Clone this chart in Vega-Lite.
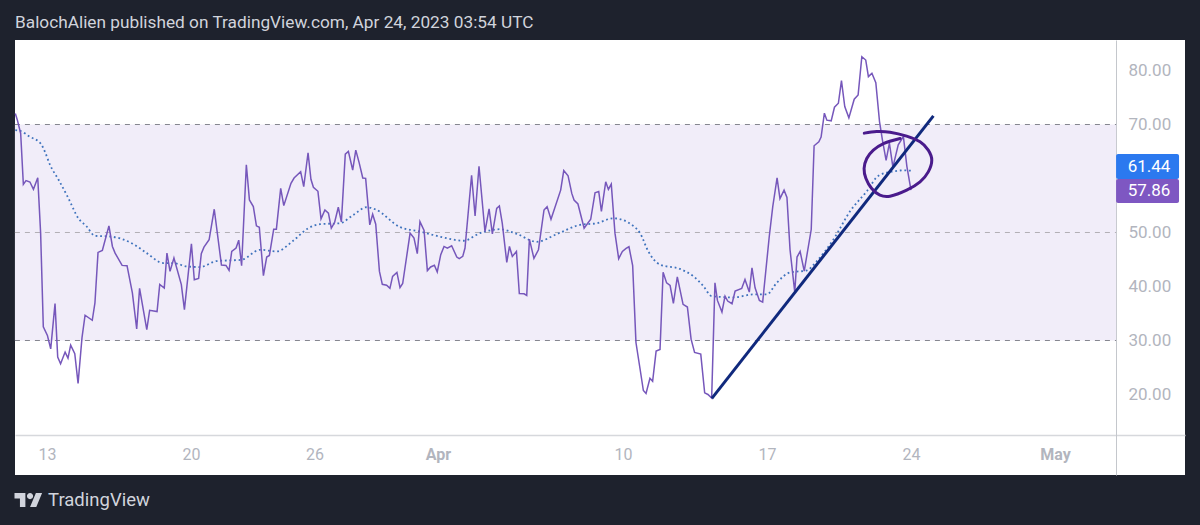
{
  "$schema": "https://vega.github.io/schema/vega-lite/v5.json",
  "description": "RSI with moving average, TradingView screenshot",
  "background": "#1e222d",
  "autosize": "none",
  "width": 1170,
  "height": 435,
  "padding": {"left": 15, "top": 40, "right": 15, "bottom": 50},
  "config": {"view": {"fill": "#ffffff", "stroke": null}, "font": "Roboto"},
  "title": {
    "text": "BalochAlien published on TradingView.com, Apr 24, 2023 03:54 UTC",
    "anchor": "start",
    "frame": "group",
    "offset": 9,
    "font": "Roboto",
    "fontSize": 17.25,
    "fontWeight": 400,
    "color": "#d1d4dc"
  },
  "datasets": {
    "band": [{"day": 11.44, "day2": 64.97, "value": 70, "value2": 30}],
    "levels": [
      {"day": 11.44, "day2": 64.97, "value": 70},
      {"day": 11.44, "day2": 64.97, "value": 50},
      {"day": 11.44, "day2": 64.97, "value": 30}
    ],
    "ma": [
      {"day": 11.46, "value": 68.95}, {"day": 11.69, "value": 68.83}, {"day": 12.17, "value": 67.72}, {"day": 12.69, "value": 66.49},
      {"day": 12.9, "value": 64.95}, {"day": 13.15, "value": 62.49}, {"day": 13.55, "value": 59.85}, {"day": 14.04, "value": 56.34},
      {"day": 14.52, "value": 52.65}, {"day": 14.93, "value": 51.11}, {"day": 15.33, "value": 49.38}, {"day": 16.06, "value": 49.26},
      {"day": 17.2, "value": 47.85}, {"day": 17.85, "value": 46.18}, {"day": 18.66, "value": 44.34}, {"day": 19.14, "value": 44.34},
      {"day": 19.79, "value": 43.72}, {"day": 20.44, "value": 43.6}, {"day": 21.25, "value": 44.71}, {"day": 22.46, "value": 44.95},
      {"day": 23.35, "value": 46.8}, {"day": 24.16, "value": 46.49}, {"day": 24.98, "value": 48.52}, {"day": 25.7, "value": 50.8},
      {"day": 26.27, "value": 51.54}, {"day": 27.24, "value": 51.72}, {"day": 27.89, "value": 53.26}, {"day": 28.54, "value": 54.68},
      {"day": 28.95, "value": 54.31}, {"day": 30.16, "value": 51.0}, {"day": 31.13, "value": 50.18}, {"day": 32.27, "value": 49.08},
      {"day": 33.24, "value": 48.47}, {"day": 34.05, "value": 49.88}, {"day": 35.02, "value": 50.61}, {"day": 35.83, "value": 49.75},
      {"day": 36.8, "value": 48.28}, {"day": 37.78, "value": 49.69}, {"day": 38.91, "value": 51.41}, {"day": 39.72, "value": 51.72},
      {"day": 40.53, "value": 52.64}, {"day": 41.5, "value": 51.23}, {"day": 41.83, "value": 49.88}, {"day": 42.23, "value": 46.5},
      {"day": 42.8, "value": 44.05}, {"day": 43.77, "value": 43.25}, {"day": 44.42, "value": 41.9}, {"day": 44.91, "value": 40.06},
      {"day": 45.31, "value": 38.22}, {"day": 46.36, "value": 37.98}, {"day": 47.34, "value": 38.53}, {"day": 47.99, "value": 38.53},
      {"day": 48.47, "value": 40.67}, {"day": 49.12, "value": 42.6}, {"day": 49.94, "value": 42.98}, {"day": 50.42, "value": 44.71},
      {"day": 51.23, "value": 48.71}, {"day": 52.04, "value": 53.94}, {"day": 52.85, "value": 57.63}, {"day": 53.42, "value": 60.52},
      {"day": 54.15, "value": 61.32}, {"day": 54.63, "value": 61.51}, {"day": 55.0, "value": 61.44}
    ],
    "rsi": [
      {"day": 11.46, "value": 72.03}, {"day": 11.56, "value": 70.8}, {"day": 11.72, "value": 68.34}, {"day": 11.85, "value": 58.92},
      {"day": 11.98, "value": 59.6}, {"day": 12.17, "value": 59.35}, {"day": 12.34, "value": 58.0}, {"day": 12.55, "value": 60.15},
      {"day": 12.69, "value": 49.88}, {"day": 12.82, "value": 32.52}, {"day": 13.02, "value": 30.92}, {"day": 13.18, "value": 28.46},
      {"day": 13.39, "value": 36.83}, {"day": 13.52, "value": 26.92}, {"day": 13.66, "value": 25.69}, {"day": 13.88, "value": 27.85},
      {"day": 14.02, "value": 26.74}, {"day": 14.15, "value": 29.14}, {"day": 14.35, "value": 27.54}, {"day": 14.51, "value": 22.06},
      {"day": 14.7, "value": 30.49}, {"day": 14.85, "value": 34.68}, {"day": 15.2, "value": 33.75}, {"day": 15.33, "value": 36.95},
      {"day": 15.48, "value": 46.31}, {"day": 15.69, "value": 46.68}, {"day": 16.01, "value": 51.23}, {"day": 16.18, "value": 47.42},
      {"day": 16.31, "value": 46.18}, {"day": 16.65, "value": 43.91}, {"day": 16.89, "value": 43.85}, {"day": 17.15, "value": 38.8},
      {"day": 17.36, "value": 32.15}, {"day": 17.5, "value": 39.66}, {"day": 17.85, "value": 32.03}, {"day": 17.99, "value": 35.6},
      {"day": 18.35, "value": 35.35}, {"day": 18.48, "value": 40.4}, {"day": 18.7, "value": 39.72}, {"day": 18.83, "value": 46.18},
      {"day": 18.98, "value": 42.8}, {"day": 19.17, "value": 45.26}, {"day": 19.53, "value": 40.34}, {"day": 19.68, "value": 35.72},
      {"day": 20.02, "value": 47.91}, {"day": 20.16, "value": 41.26}, {"day": 20.37, "value": 41.51}, {"day": 20.5, "value": 46.06},
      {"day": 20.63, "value": 47.29}, {"day": 20.88, "value": 48.65}, {"day": 21.13, "value": 54.31}, {"day": 21.48, "value": 43.97},
      {"day": 21.7, "value": 43.91}, {"day": 21.85, "value": 42.98}, {"day": 21.98, "value": 46.49}, {"day": 22.19, "value": 47.11},
      {"day": 22.32, "value": 48.58}, {"day": 22.46, "value": 43.85}, {"day": 22.69, "value": 62.55}, {"day": 22.84, "value": 56.03},
      {"day": 23.03, "value": 54.8}, {"day": 23.18, "value": 51.23}, {"day": 23.32, "value": 50.98}, {"day": 23.52, "value": 42.0},
      {"day": 23.68, "value": 45.45}, {"day": 23.81, "value": 45.75}, {"day": 24.02, "value": 50.62}, {"day": 24.15, "value": 50.62},
      {"day": 24.36, "value": 58.18}, {"day": 24.51, "value": 54.98}, {"day": 24.86, "value": 59.11}, {"day": 25.01, "value": 60.09},
      {"day": 25.33, "value": 61.26}, {"day": 25.48, "value": 58.49}, {"day": 25.69, "value": 64.77}, {"day": 25.83, "value": 59.85},
      {"day": 25.95, "value": 58.37}, {"day": 26.17, "value": 57.63}, {"day": 26.32, "value": 52.52}, {"day": 26.51, "value": 54.18},
      {"day": 26.68, "value": 53.57}, {"day": 26.82, "value": 50.8}, {"day": 26.98, "value": 51.85}, {"day": 27.16, "value": 54.68},
      {"day": 27.31, "value": 51.97}, {"day": 27.5, "value": 64.52}, {"day": 27.65, "value": 65.02}, {"day": 27.86, "value": 61.57},
      {"day": 28.01, "value": 65.26}, {"day": 28.17, "value": 62.98}, {"day": 28.35, "value": 60.09}, {"day": 28.49, "value": 60.03},
      {"day": 28.69, "value": 51.42}, {"day": 28.83, "value": 53.38}, {"day": 28.98, "value": 51.54}, {"day": 29.16, "value": 42.8},
      {"day": 29.3, "value": 40.4}, {"day": 29.51, "value": 40.22}, {"day": 29.67, "value": 39.66}, {"day": 29.8, "value": 41.88},
      {"day": 30.01, "value": 42.62}, {"day": 30.16, "value": 39.8}, {"day": 30.29, "value": 40.55}, {"day": 30.65, "value": 49.88},
      {"day": 30.84, "value": 48.96}, {"day": 31.0, "value": 46.07}, {"day": 31.13, "value": 52.02}, {"day": 31.33, "value": 50.37},
      {"day": 31.49, "value": 42.94}, {"day": 31.65, "value": 43.62}, {"day": 31.83, "value": 43.93}, {"day": 31.97, "value": 42.7},
      {"day": 32.14, "value": 45.89}, {"day": 32.3, "value": 47.42}, {"day": 32.46, "value": 47.12}, {"day": 32.67, "value": 47.55},
      {"day": 32.92, "value": 45.46}, {"day": 33.04, "value": 45.15}, {"day": 33.21, "value": 45.58}, {"day": 33.32, "value": 47.12},
      {"day": 33.64, "value": 60.61}, {"day": 33.81, "value": 53.07}, {"day": 34.0, "value": 62.27}, {"day": 34.29, "value": 50.18},
      {"day": 34.49, "value": 54.36}, {"day": 34.65, "value": 49.75}, {"day": 34.86, "value": 54.48}, {"day": 34.99, "value": 54.91},
      {"day": 35.13, "value": 51.72}, {"day": 35.35, "value": 44.48}, {"day": 35.48, "value": 47.42}, {"day": 35.62, "value": 45.58},
      {"day": 35.82, "value": 46.5}, {"day": 35.96, "value": 38.71}, {"day": 36.19, "value": 38.65}, {"day": 36.32, "value": 38.34},
      {"day": 36.45, "value": 48.77}, {"day": 36.67, "value": 45.21}, {"day": 36.89, "value": 46.81}, {"day": 37.16, "value": 54.17},
      {"day": 37.31, "value": 54.79}, {"day": 37.5, "value": 52.45}, {"day": 37.97, "value": 57.85}, {"day": 38.12, "value": 61.47},
      {"day": 38.33, "value": 60.49}, {"day": 38.51, "value": 57.24}, {"day": 38.62, "value": 56.01}, {"day": 38.81, "value": 55.28},
      {"day": 39.11, "value": 50.8}, {"day": 39.43, "value": 52.45}, {"day": 39.64, "value": 57.36}, {"day": 39.82, "value": 57.61},
      {"day": 39.95, "value": 53.93}, {"day": 40.16, "value": 59.39}, {"day": 40.29, "value": 57.98}, {"day": 40.43, "value": 58.96},
      {"day": 40.61, "value": 49.88}, {"day": 40.79, "value": 45.15}, {"day": 40.97, "value": 46.5}, {"day": 41.15, "value": 47.06},
      {"day": 41.29, "value": 47.36}, {"day": 41.47, "value": 43.87}, {"day": 41.63, "value": 29.63}, {"day": 41.83, "value": 24.72},
      {"day": 41.99, "value": 20.74}, {"day": 42.12, "value": 20.18}, {"day": 42.31, "value": 23.01}, {"day": 42.44, "value": 22.45},
      {"day": 42.61, "value": 28.04}, {"day": 42.8, "value": 28.34}, {"day": 42.95, "value": 42.64}, {"day": 43.12, "value": 40.67},
      {"day": 43.29, "value": 40.18}, {"day": 43.45, "value": 36.87}, {"day": 43.64, "value": 41.78}, {"day": 43.92, "value": 36.69},
      {"day": 44.13, "value": 36.2}, {"day": 44.31, "value": 30.25}, {"day": 44.48, "value": 27.79}, {"day": 44.78, "value": 27.48},
      {"day": 44.97, "value": 20.31}, {"day": 45.13, "value": 20.0}, {"day": 45.31, "value": 19.33}, {"day": 45.47, "value": 40.67},
      {"day": 45.59, "value": 37.42}, {"day": 45.81, "value": 35.28}, {"day": 45.96, "value": 38.22}, {"day": 46.09, "value": 37.3},
      {"day": 46.3, "value": 36.81}, {"day": 46.45, "value": 39.14}, {"day": 46.77, "value": 39.63}, {"day": 46.93, "value": 41.29},
      {"day": 47.14, "value": 38.96}, {"day": 47.27, "value": 43.44}, {"day": 47.42, "value": 39.75}, {"day": 47.63, "value": 37.42},
      {"day": 47.79, "value": 37.12}, {"day": 48.11, "value": 49.26}, {"day": 48.28, "value": 54.79}, {"day": 48.49, "value": 60.12},
      {"day": 48.63, "value": 56.26}, {"day": 48.83, "value": 57.85}, {"day": 48.97, "value": 56.5}, {"day": 49.12, "value": 46.81},
      {"day": 49.35, "value": 38.96}, {"day": 49.46, "value": 45.46}, {"day": 49.61, "value": 46.49}, {"day": 49.81, "value": 42.86},
      {"day": 50.15, "value": 50.55}, {"day": 50.29, "value": 66.06}, {"day": 50.52, "value": 66.8}, {"day": 50.63, "value": 67.66},
      {"day": 50.79, "value": 72.09}, {"day": 50.91, "value": 70.8}, {"day": 51.12, "value": 70.68}, {"day": 51.28, "value": 73.2},
      {"day": 51.47, "value": 73.94}, {"day": 51.62, "value": 78.12}, {"day": 51.78, "value": 73.32}, {"day": 51.98, "value": 71.23},
      {"day": 52.24, "value": 74.68}, {"day": 52.43, "value": 75.48}, {"day": 52.61, "value": 82.55}, {"day": 52.8, "value": 81.94},
      {"day": 52.93, "value": 78.86}, {"day": 53.1, "value": 79.48}, {"day": 53.29, "value": 77.75}, {"day": 53.47, "value": 70.55},
      {"day": 53.61, "value": 67.17}, {"day": 53.79, "value": 63.35}, {"day": 53.95, "value": 66.55}, {"day": 54.12, "value": 62.12},
      {"day": 54.38, "value": 66.25}, {"day": 54.63, "value": 67.78}, {"day": 54.8, "value": 62.25}, {"day": 55.0, "value": 57.86}
    ],
    "trend": [{"day": 45.32, "value": 19.29}, {"day": 56.09, "value": 71.6}],
    "circle": [
      {"seq": 1, "day": 52.73, "value": 68.4}, {"seq": 2, "day": 53.33, "value": 68.7}, {"seq": 3, "day": 53.98, "value": 68.58},
      {"seq": 4, "day": 54.79, "value": 67.84}, {"seq": 5, "day": 55.44, "value": 66.79}, {"seq": 6, "day": 55.84, "value": 65.25},
      {"seq": 7, "day": 56.01, "value": 63.4}, {"seq": 8, "day": 55.84, "value": 61.23}, {"seq": 9, "day": 55.44, "value": 59.38},
      {"seq": 10, "day": 54.79, "value": 57.84}, {"seq": 11, "day": 53.98, "value": 56.73}, {"seq": 12, "day": 53.49, "value": 56.91},
      {"seq": 13, "day": 53.09, "value": 58.15}, {"seq": 14, "day": 52.81, "value": 60.0}, {"seq": 15, "day": 52.72, "value": 61.85},
      {"seq": 16, "day": 52.85, "value": 63.7}, {"seq": 17, "day": 53.17, "value": 65.25}, {"seq": 18, "day": 53.66, "value": 66.48},
      {"seq": 19, "day": 54.47, "value": 67.41}
    ],
    "tags": [
      {"day": 64.97, "day2": 68.03, "value": 64.54, "value2": 59.91, "kind": "ma"},
      {"day": 64.97, "day2": 68.03, "value": 59.91, "value2": 55.46, "kind": "rsi"}
    ],
    "tagLabels": [
      {"day": 66.57, "value": 62.13, "label": "61.44"},
      {"day": 66.57, "value": 57.69, "label": "57.86"}
    ],
    "brand": [{"day": 13.05, "value": 0.4, "label": "TradingView"}],
    "logo": [{"day": 12.1, "value": 0.46}]
  },
  "encoding": {
    "x": {
      "field": "day",
      "type": "quantitative",
      "scale": {"domain": [11.444, 68.32], "nice": false, "zero": false},
      "axis": {
        "title": null,
        "orient": "bottom",
        "offset": -40,
        "values": [13, 20, 26, 32, 41, 48, 55, 62],
        "labelExpr": "datum.value == 32 ? 'Apr' : datum.value == 62 ? 'May' : datum.value > 32 ? '' + (datum.value - 31) : '' + datum.value",
        "grid": false,
        "ticks": false,
        "domainColor": "#d6d8dc",
        "domainWidth": 1.5,
        "labelColor": "#b2b5be",
        "labelFont": "Roboto",
        "labelFontSize": 16,
        "labelFontWeight": {"condition": {"test": "datum.value == 32 || datum.value == 62", "value": 700}, "value": 400},
        "labelPadding": 11,
        "labelOverlap": false,
        "labelFlush": false
      }
    },
    "y": {
      "field": "value",
      "type": "quantitative",
      "scale": {"domain": [5.09, 85.65], "nice": false, "zero": false},
      "axis": {
        "title": null,
        "orient": "right",
        "offset": -69,
        "values": [20, 30, 40, 50, 60, 70, 80],
        "format": ".2f",
        "labelExpr": "datum.value == 60 ? '' : datum.label",
        "grid": false,
        "ticks": false,
        "domainColor": "#c4c7cc",
        "domainWidth": 1,
        "labelColor": "#b2b5be",
        "labelFont": "Roboto",
        "labelFontSize": 17,
        "labelPadding": 12,
        "labelOverlap": false,
        "labelFlush": false
      }
    }
  },
  "layer": [
    {
      "data": {"name": "band"},
      "mark": {"type": "rect", "color": "#f1edf9"},
      "encoding": {"x2": {"field": "day2"}, "y2": {"field": "value2"}}
    },
    {
      "data": {"name": "levels"},
      "mark": {"type": "rule", "strokeDash": [5, 5], "strokeWidth": 1},
      "encoding": {
        "x2": {"field": "day2"},
        "color": {"condition": {"test": "datum.value == 50", "value": "#b3b0b6"}, "value": "#85868f"}
      }
    },
    {
      "data": {"name": "ma"},
      "mark": {"type": "line", "color": "#3f73bd", "strokeWidth": 1.8, "strokeDash": [1.8, 2.8], "interpolate": "monotone"}
    },
    {
      "data": {"name": "rsi"},
      "mark": {"type": "line", "color": "#7657bb", "strokeWidth": 1.5}
    },
    {
      "data": {"name": "trend"},
      "mark": {"type": "line", "color": "#10297d", "strokeWidth": 3}
    },
    {
      "data": {"name": "circle"},
      "mark": {"type": "line", "color": "#4a1b8c", "strokeWidth": 3, "interpolate": "cardinal", "strokeCap": "round"},
      "encoding": {"order": {"field": "seq", "type": "quantitative"}}
    },
    {
      "data": {"name": "tags"},
      "mark": {"type": "rect", "cornerRadius": 2},
      "encoding": {
        "x2": {"field": "day2"},
        "y2": {"field": "value2"},
        "color": {
          "field": "kind",
          "type": "nominal",
          "scale": {"domain": ["ma", "rsi"], "range": ["#2b79ef", "#7e57c2"]},
          "legend": null
        }
      }
    },
    {
      "data": {"name": "tagLabels"},
      "mark": {"type": "text", "color": "#ffffff", "font": "Roboto", "fontSize": 17, "align": "center", "baseline": "middle"},
      "encoding": {"text": {"field": "label"}}
    },
    {
      "data": {"name": "brand"},
      "mark": {"type": "text", "color": "#d1d4dc", "font": "Roboto", "fontSize": 18.5, "align": "left", "baseline": "middle", "clip": false},
      "encoding": {"text": {"field": "label"}}
    },
    {
      "data": {"name": "logo"},
      "mark": {
        "type": "point",
        "filled": true,
        "color": "#d1d4dc",
        "opacity": 1,
        "size": 784,
        "shape": "M-0.222 0.5H-0.611V-0.111H-1V-0.5H-0.222ZM0.556 0.5H0.111L0.528 -0.5H0.972ZM-0.111 -0.278a0.222 0.222 0 1 0 0.444 0a0.222 0.222 0 1 0 -0.444 0Z"
      }
    }
  ]
}
